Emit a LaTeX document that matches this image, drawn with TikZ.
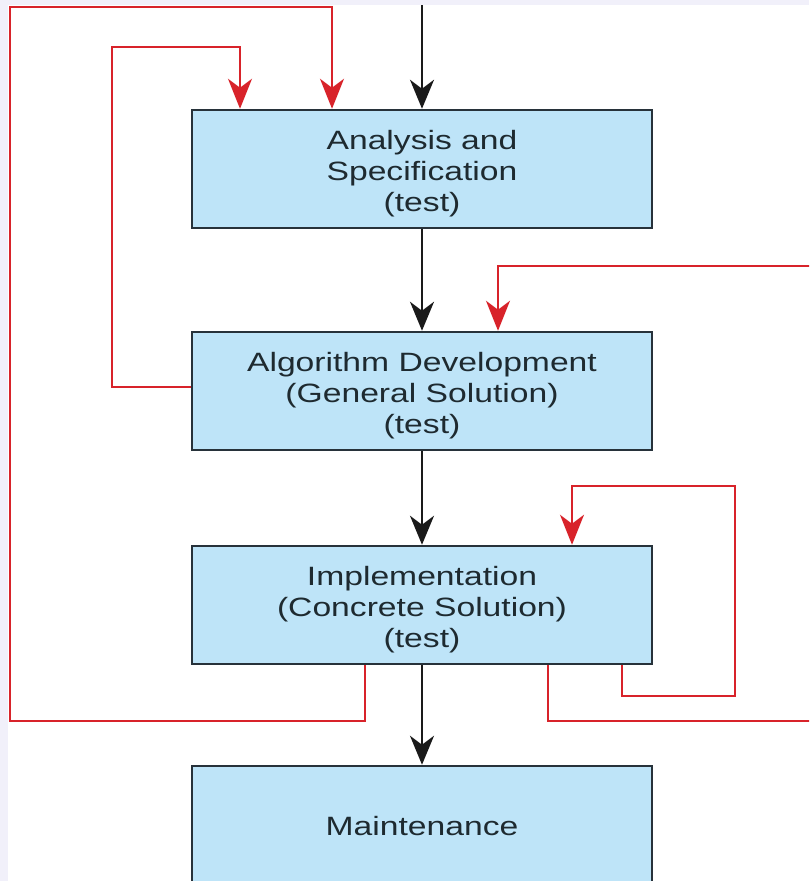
\documentclass[tikz,border=0pt]{standalone}
\usepackage{fontspec}
\setmainfont{Liberation Sans}[FakeStretch=1.27]
\usetikzlibrary{arrows.meta}
\definecolor{bgedge}{HTML}{F1F0FA}
\definecolor{boxfill}{HTML}{BEE4F8}
\definecolor{boxline}{HTML}{27323A}
\definecolor{loopred}{HTML}{D8232A}
\definecolor{ink}{HTML}{1E2A30}
\definecolor{flowink}{HTML}{1A1A1A}

\begin{document}
\begin{tikzpicture}[x=1pt,y=-1pt,
  stage/.style={draw=boxline, line width=2.5pt, fill=boxfill,
    minimum width=460pt, minimum height=118pt, inner sep=0pt},
  stagetext/.style={align=center, text=ink, inner sep=0pt,
    font=\fontsize{26.5}{31}\selectfont},
  % a box whose three-line text sits a little below its centre
  caption/.style={label={[stagetext, yshift=-5pt]center:#1}},
  flow/.style={draw=flowink, line width=2.5pt,
    -{Stealth[length=29pt,width=24pt,inset=9pt]}},
  loop/.style={draw=loopred, line width=2pt,
    -{Stealth[length=30pt,width=24pt,inset=9pt]}}]

\useasboundingbox (0,0) rectangle (809,881);
\begin{scope}
\clip (0,0) rectangle (809,881);
\fill[bgedge] (0,0) rectangle (809,881);
\fill[white] (8,5) rectangle (809,881);

% the four stages
\node[stage, caption={Analysis and\\Specification\\(test)}] (a) at (422,169) {};
\node[stage, caption={Algorithm Development\\(General Solution)\\(test)}] (b) at (422,391) {};
\node[stage, caption={Implementation\\(Concrete Solution)\\(test)}] (c) at (422,605) {};
\node[stage, stagetext, minimum height=120pt] (d) at (422,826) {Maintenance};

% main flow
\coordinate (start) at (422,5);
\draw[flow] (start) -- (a.north);
\draw[flow] (a.south) -- (b.north);
\draw[flow] (b.south) -- (c.north);
\draw[flow] (c.south) -- (d.north);

% feedback loops
\draw[loop] ([yshift=4.5pt]b.west) -| (112,47) -| ([xshift=-182pt]a.north);
\draw[loop] ([xshift=-57pt]c.south) -- ++(0,56) -| (10,7) -| ([xshift=-90pt]a.north);
\draw[loop] ([xshift=126pt]c.south) -- ++(0,56) -| (840,266) -| ([xshift=76pt]b.north);
\draw[loop] ([xshift=200pt]c.south) -- ++(0,31) -| (735,486) -| ([xshift=150pt]c.north);
\end{scope}
\end{tikzpicture}
\end{document}
